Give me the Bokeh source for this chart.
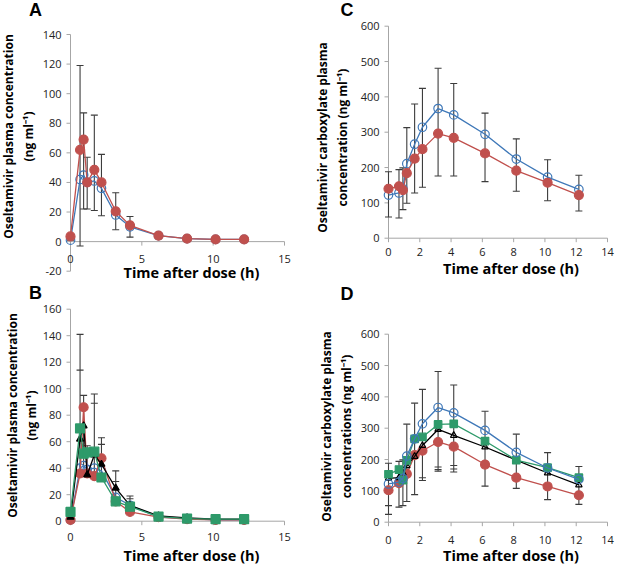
import numpy as np
from bokeh.plotting import figure
from bokeh.layouts import column, row
from bokeh.models import Range1d
from bokeh.core.properties import value
from bokeh.embed import file_html
from bokeh.resources import INLINE

# ---------------- data ----------------
t = [0, 0.67, 0.92, 1.17, 1.67, 2.17, 3.17, 4.17, 6.17, 8.17, 10.17, 12.17]

# Panel A: oseltamivir
a_blue = [1, 42, 45, 40, 41, 36, 18, 10, 4, 2, 1.5, 1.5]
a_red = [3.5, 62, 69, 40, 48.5, 40, 20.5, 11, 4, 2, 1.5, 1.5]
a_err_hi = [5, 119, 87, 57, 85.5, 59, 33, 17, 6, 3, 2, 2]
a_err_lo = [1, -3, 22, 22, 21, 17.5, 8, 3, 2, 1, 1, 1]

# Panel B: oseltamivir, four groups
b_blue = [1, 40, 42, 39, 40, 38, 18, 12, 3, 2, 1, 1]
b_red = [1, 36, 86, 36, 34, 47.5, 15, 7, 3, 1.5, 1, 1]
b_black = [3, 62, 72, 35, 50, 43, 25, 12, 4, 2.5, 1.5, 1.5]
b_green = [7, 70, 51, 52, 52.5, 33, 15, 11, 3.5, 2, 1.5, 1.5]
b_err_hi1 = [8, 141, 95, 57, 96, 63, 38, 19, 5, 3, 2, 2]
b_err_hi2 = [5, 114, 88, 50, 89, 58, 30, 17, 4, 2.5, 2, 2]

# Panel C: oseltamivir carboxylate
c_blue = [122, 128, 140, 211, 266, 314, 367, 349, 294, 224, 173, 138]
c_red = [140, 147, 136, 184, 225, 252, 296, 284, 240, 191, 157, 122]
c_err_hi = [188, 194, 199, 313, 380, 424, 481, 438, 354, 281, 222, 178]
c_err_lo = [60, 57, 81, 99, 128, 144, 176, 176, 160, 133, 106, 77]

# Panel D: oseltamivir carboxylate, four groups
d_blue = [122, 128, 140, 211, 266, 314, 366, 349, 293, 223, 173, 137]
d_green = [153, 168, 134, 197, 266, 272, 312, 314, 259, 198, 174, 142]
d_black = [140, 142, 157, 180, 210, 245, 296, 277, 240, 198, 157, 119]
d_red = [102, 125, 140, 154, 214, 228, 256, 241, 184, 142, 114, 86]
d_err_hi = [188, 194, 199, 313, 380, 424, 481, 438, 354, 281, 222, 178]
d_err_lo1 = [25, 48, 53, 66, 88, 133, 163, 160, 115, 108, 72, 57]
d_err_lo2 = [53, np.nan, np.nan, np.nan, np.nan, 142, 168, 170, np.nan, np.nan, np.nan, np.nan]
d_err_lo3 = [np.nan, np.nan, np.nan, np.nan, np.nan, np.nan, 176, 181, np.nan, np.nan, np.nan, np.nan]

xticks_15 = [0, 5, 10, 15]
xticks_14 = [0, 2, 4, 6, 8, 10, 12, 14]
yticks_a = [-20, 0, 20, 40, 60, 80, 100, 120, 140]
yticks_b = [0, 20, 40, 60, 80, 100, 120, 140, 160]
yticks_cd = [0, 100, 200, 300, 400, 500, 600]

ylab_ab = "Oseltamivir plasma concentration\n(ng ml\u207b\u00b9)"
ylab_c = "Oseltamivir carboxylate plasma\nconcentration (ng ml\u207b\u00b9)"
ylab_d = "Oseltamivir carboxylate plasma\nconcentrations (ng ml\u207b\u00b9)"
xlab = "Time after dose (h)"

RED = "#C0504D"
BLUE = "#3F78B8"
GREEN = "#2E9A6A"
BLACK = "#000000"
ERR = "#3C3C3C"
AXIS = "#A6A6A6"
FONT = "Open Sans"


def make_panel(w, h, xmap, ymap, xticks, yticks, ylabel, ylab_px, xlab_px, xtick_dy, letter, letter_px):
    """xmap=((v0,px0),(v1,px1)), ymap likewise: pixel layout of the plot area inside the figure."""
    (xv0, xp0), (xv1, xp1) = xmap
    (yv0, yp0), (yv1, yp1) = ymap
    sx = (xp1 - xp0) / (xv1 - xv0)
    sy = (yp1 - yp0) / (yv1 - yv0)  # negative (screen y grows down)

    def dx(px):
        return xv0 + (px - xp0) / sx

    def dy(py):
        return yv0 + (py - yp0) / sy

    p = figure(width=w, height=h, x_range=Range1d(dx(0), dx(w)), y_range=Range1d(dy(h), dy(0)),
               output_backend="svg", toolbar_location=None, title=None,
               min_border_left=0, min_border_right=0, min_border_top=0, min_border_bottom=0)
    p.axis.visible = False
    p.grid.visible = False
    p.outline_line_color = None
    p.background_fill_color = "white"
    p.border_fill_color = "white"

    # axes
    p.segment(x0=[0], y0=[yticks[0]], x1=[0], y1=[yticks[-1]], line_color=AXIS, line_width=1)
    p.segment(x0=[xticks[0]], y0=[0], x1=[xticks[-1]], y1=[0], line_color=AXIS, line_width=1)
    p.ray(x=[0] * len(yticks), y=yticks, length=4, length_units="screen", angle=np.pi,
          line_color=AXIS, line_width=1)
    p.ray(x=xticks, y=[0] * len(xticks), length=4, length_units="screen", angle=-np.pi / 2,
          line_color=AXIS, line_width=1)
    p.text(x=[0] * len(yticks), y=yticks, text=[str(v) for v in yticks], x_offset=-9,
           text_align="right", text_baseline="middle", text_font=value(FONT),
           text_font_size="11px", text_color="#222222")
    p.text(x=xticks, y=[0] * len(xticks), text=[str(v) for v in xticks], y_offset=xtick_dy,
           text_align="center", text_baseline="middle", text_font=value(FONT),
           text_font_size="11px", text_color="#222222")
    # axis titles
    p.text(x=[dx(ylab_px[0])], y=[dy(ylab_px[1])], text=[ylabel], angle=np.pi / 2,
           text_align="center", text_baseline="middle", text_font=value(FONT),
           text_font_style="bold", text_font_size="12px", text_line_height=1.15,
           text_color="#000000")
    p.text(x=[dx(xlab_px[0])], y=[dy(xlab_px[1])], text=[xlab],
           text_align="center", text_baseline="middle", text_font=value(FONT),
           text_font_style="bold", text_font_size="14.5px", text_color="#000000")
    p.text(x=[dx(letter_px[0])], y=[dy(letter_px[1])], text=[letter],
           text_align="center", text_baseline="middle", text_font=value("Liberation Sans"),
           text_font_style="bold", text_font_size="18px", text_color="#000000")
    return p


def errbars(p, lo, hi, caps):
    p.segment(x0=t, y0=lo, x1=t, y1=hi, line_color=ERR, line_width=1.1)
    for c in caps:
        p.scatter(x=t, y=c, marker="dash", size=7, line_color=ERR, line_width=1.1)


def series(p, y, color, marker, size, filled=True):
    p.line(t, y, line_color=color, line_width=1.3)
    p.scatter(t, y, marker=marker, size=size, line_color=color, line_width=1.2,
              fill_color=color if filled else "white", fill_alpha=1.0 if filled else 0.0)


# Panel A
pA = make_panel(310, 283, ((0, 70), (15, 284)), ((140, 34), (-20, 270.7)), xticks_15, yticks_a,
                ylab_ab, (18, 136), (191, 272), 17, "A", (35, 9))
errbars(pA, a_err_lo, a_err_hi, [a_err_lo, a_err_hi])
series(pA, a_blue, BLUE, "circle", 8.5, filled=False)
series(pA, a_red, RED, "circle", 9)

# Panel C
pC = make_panel(311, 283, ((0, 78), (14, 297)), ((600, 25.7), (0, 237.7)), xticks_14, yticks_cd,
                ylab_c, (22, 137), (200.5, 268), 14, "C", (36.5, 9))
errbars(pC, c_err_lo, c_err_hi, [c_err_lo, c_err_hi])
series(pC, c_blue, BLUE, "circle", 8.5, filled=False)
series(pC, c_red, RED, "circle", 9)

# Panel B
pB = make_panel(310, 283, ((0, 70), (15, 284)), ((160, 25.7), (0, 237.7)), xticks_15, yticks_b,
                ylab_ab, (21.5, 132), (191, 272), 16, "B", (35, 9))
b_lo = np.minimum.reduce([b_blue, b_red, b_black, b_green])
errbars(pB, b_lo, b_err_hi1, [b_err_hi1, b_err_hi2])
series(pB, b_blue, BLUE, "circle", 8.5, filled=False)
series(pB, b_red, RED, "circle", 9)
series(pB, b_black, BLACK, "triangle", 7)
series(pB, b_green, GREEN, "square", 9)

# Panel D
pD = make_panel(311, 283, ((0, 78), (14, 297)), ((600, 50.7), (0, 238.7)), xticks_14, yticks_cd,
                ylab_d, (26, 143), (200.5, 272), 18, "D", (36.5, 10))
errbars(pD, d_err_lo1, d_err_hi, [d_err_lo1, d_err_lo2, d_err_lo3, d_err_hi])
series(pD, d_red, RED, "circle", 9)
series(pD, d_black, BLACK, "triangle", 6.5, filled=False)
series(pD, d_green, GREEN, "square", 7.5)
series(pD, d_blue, BLUE, "circle", 8.5, filled=False)

layout = column(row(pA, pC), row(pB, pD))
open("out.html", "w").write(file_html(layout, INLINE))
